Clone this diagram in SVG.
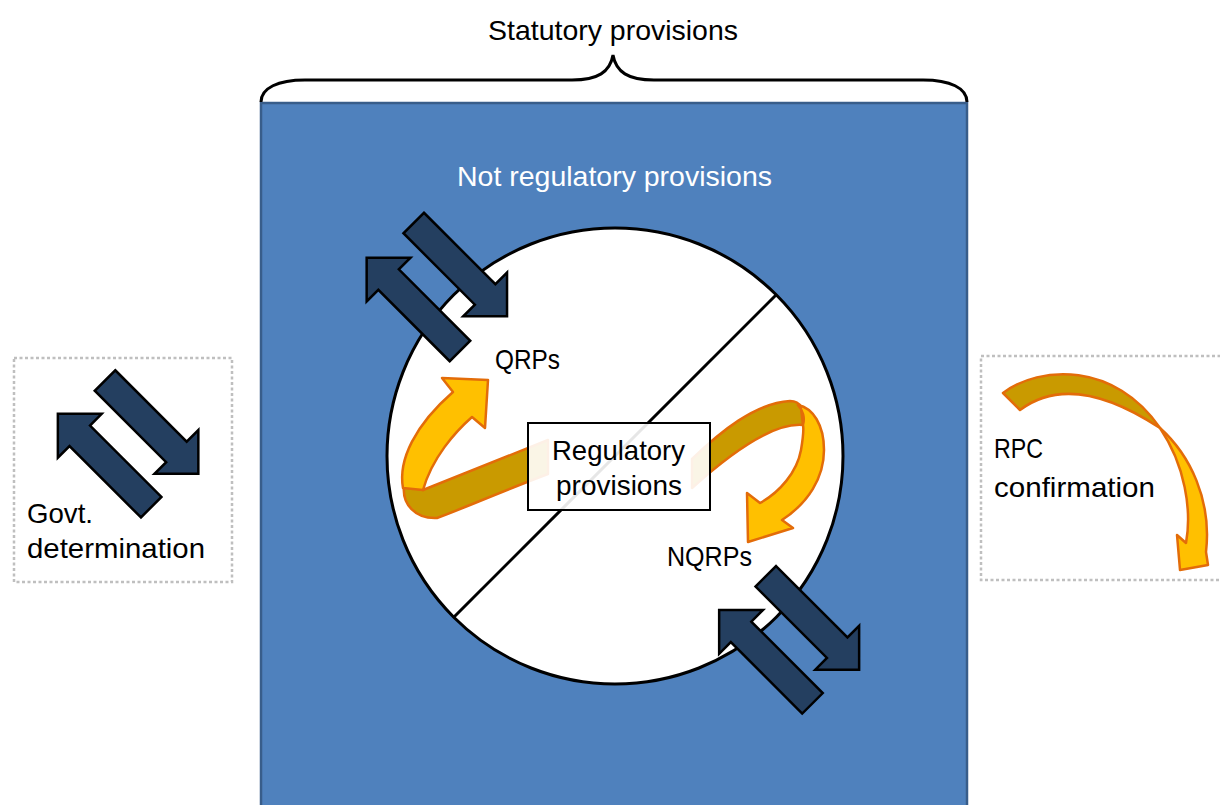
<svg xmlns="http://www.w3.org/2000/svg" width="1220" height="805" viewBox="0 0 1220 805">
<defs>
<style>
.t{font-family:"Liberation Sans",Arial,sans-serif;font-size:28px;fill:#000}
.w{fill:#fff}
.da{fill:#243F60;stroke:#000;stroke-width:2.5;stroke-linejoin:miter}
.gold{fill:#FFC000;stroke:#E36C09;stroke-width:2.5;stroke-linejoin:round}
.back{fill:#C99A00;stroke:#E36C09;stroke-width:2.5;stroke-linejoin:round}
.dot{fill:none;stroke:#BFBFBF;stroke-width:2.5;stroke-dasharray:3 2.5}
</style>
<path id="arr" d="M0,-14.5 H101 V-31 L132,0 L101,31 V14.5 H0 Z"/>
</defs>
<rect width="1220" height="805" fill="#fff"/>
<g id="statutory">
<rect x="261" y="103" width="706" height="720" fill="#4F81BD" stroke="#385D8A" stroke-width="2.5"/>
<path d="M261,102 C261,88 278,80 305,80 L572,80 C598,80 610,72 613,55 C616,72 628,80 654,80 L923,80 C950,80 967,88 967,102" fill="none" stroke="#000" stroke-width="3"/>
<text class="t" x="488" y="40" textLength="250" lengthAdjust="spacingAndGlyphs">Statutory provisions</text>
<text class="t w" x="457" y="186" textLength="315" lengthAdjust="spacingAndGlyphs">Not regulatory provisions</text>
</g>
<g id="circle">
<circle cx="615" cy="456" r="228" fill="#fff" stroke="#000" stroke-width="3"/>
<line x1="454" y1="617" x2="776" y2="295" stroke="#000" stroke-width="3"/>
</g>
<g id="connectors">
<path class="back" d="M548,440 L423,490 L404,486 C402,504 415,519 437,518 C462,509 500,492 548,474 Z"/>
<path class="gold" d="M488,380 L485,428 L472,417 C455,432 432,458 423,490 L403,488 C398,460 415,425 453,392 L442,378 Z"/>
<path class="back" d="M692,459 C720,432 755,403 790,401 C795,401 799,403 801,407 L803,425 C780,423 745,440 692,488 Z"/>
<path class="gold" d="M798,405 C813,408 824,425 824,450 C824,478 808,503 782,520 L793,528 L748,542 L747,493 L760,503 C780,492 797,472 801,450 C803,438 804,430 803,425 C805,418 803,410 798,405 Z"/>
<use href="#arr" class="da" transform="translate(413.7,223) rotate(45)"/>
<use href="#arr" class="da" transform="translate(460,351) rotate(225)"/>
<use href="#arr" class="da" transform="translate(765.8,576.3) rotate(45)"/>
<use href="#arr" class="da" transform="translate(812.5,703.3) rotate(225)"/>
</g>
<g id="regulatory">
<rect x="528" y="423" width="182" height="87" fill="#fff" fill-opacity="0.9" stroke="#000" stroke-width="2"/>
<text class="t" x="552" y="460" textLength="133" lengthAdjust="spacingAndGlyphs">Regulatory</text>
<text class="t" x="556" y="495" textLength="126" lengthAdjust="spacingAndGlyphs">provisions</text>
</g>
<g id="qrps">
<text class="t" x="495" y="369" textLength="65" lengthAdjust="spacingAndGlyphs">QRPs</text>
</g>
<g id="nqrps">
<text class="t" x="667" y="566" textLength="85" lengthAdjust="spacingAndGlyphs">NQRPs</text>
</g>
<g id="govt">
<rect class="dot" x="14" y="358" width="218" height="224"/>
<use href="#arr" class="da" transform="translate(105,380.5) rotate(45)"/>
<use href="#arr" class="da" transform="translate(151.2,507.2) rotate(225)"/>
<text class="t" x="27" y="523" textLength="66" lengthAdjust="spacingAndGlyphs">Govt.</text>
<text class="t" x="27" y="558" textLength="178" lengthAdjust="spacingAndGlyphs">determination</text>
</g>
<g id="rpc">
<rect class="dot" x="981" y="356" width="260" height="224"/>
<text class="t" x="994" y="458" textLength="49" lengthAdjust="spacingAndGlyphs">RPC</text>
<text class="t" x="994" y="497" textLength="161" lengthAdjust="spacingAndGlyphs">confirmation</text>
<path class="back" d="M1003,393 C1040,365 1115,362 1160,428 C1110,395 1060,380 1020,410 Z"/>
<path class="gold" d="M1160,428 C1190,455 1212,500 1206,552 L1208,565 L1180,570 L1177,535 L1186,543 C1192,510 1185,465 1160,428 Z"/>
</g>
</svg>
